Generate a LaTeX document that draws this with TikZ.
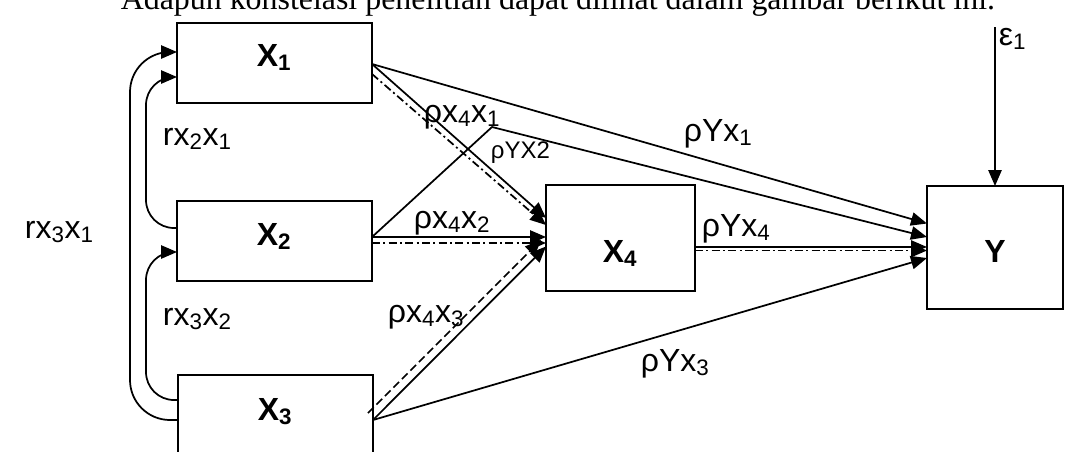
\documentclass[tikz,border=0pt]{standalone}
\usepackage{fontspec}
\setmainfont{Liberation Sans}
\newfontfamily\titlefont{Liberation Serif}
\usetikzlibrary{arrows.meta,calc}
\begin{document}
\begin{tikzpicture}[x=0.75pt,y=-0.75pt,
  line width=1.3pt,
  box/.style={draw, fill=white, inner sep=0pt, outer sep=0pt, minimum width=146.25pt, minimum height=60pt},
  boxlbl/.style={inner sep=0pt, anchor=base, font=\fontsize{24}{28}\selectfont\bfseries},
  lbl/.style={inner sep=0pt, anchor=base west, font=\fontsize{24}{28}\selectfont},
  arr/.style={-{Triangle[length=12pt,width=10pt]}},
  dd/.style={dash pattern=on 6pt off 2.5pt on 1.5pt off 2.5pt},
  ds/.style={dash pattern=on 6pt off 3pt}
]
\useasboundingbox (0,0) rectangle (1071,451);

% title (cut off at the top)
\node[anchor=base west, inner sep=0pt] (title) at (120,9)
  {\resizebox{655.5pt}{!}{\titlefont Adapun konstelasi penelitian dapat dilihat dalam gambar berikut ini.}};

% white label backgrounds
\fill[white] (157,110) rectangle (249,187);
\fill[white] (418,88) rectangle (510,140);
\fill[white] (487,122) rectangle (577,190);
\fill[white] (409,193) rectangle (500,270);
\fill[white] (383,286) rectangle (474,362);
\fill[white] (677,103) rectangle (769,178);
\fill[white] (697,202) rectangle (788,278);
\fill[white] (994,12) rectangle (1071,87);

% boxes
\node[box] (X1) at (274.5,63) {};
\node[box] (X2) at (274.5,241) {};
\node[box] (X3) at (275.5,415) {};
\node[box, minimum width=111.75pt, minimum height=79.5pt] (X4) at (620.5,238) {};
\node[box, minimum width=102pt, minimum height=92.25pt] (Y) at (995,247.5) {};

\node[boxlbl] (X1t) at (274,66) {X\textsubscript{1}};
\node[boxlbl] (X2t) at (274,245) {X\textsubscript{2}};
\node[boxlbl] (X3t) at (275,420) {X\textsubscript{3}};
\node[boxlbl] (X4t) at (620,262) {X\textsubscript{4}};
\node[boxlbl] (Yt) at (995,262) {Y};

% labels
\node[lbl] (l21) at (162,145) {rx\textsubscript{2}x\textsubscript{1}};
\node[lbl] (l31) at (24,238) {rx\textsubscript{3}x\textsubscript{1}};
\node[lbl] (l32) at (162,325) {rx\textsubscript{3}x\textsubscript{2}};
\node[lbl] (p41) at (423,122) {ρx\textsubscript{4}x\textsubscript{1}};
\node[lbl, font=\fontsize{18}{21}\selectfont] (py2) at (490,158) {ρYX2};
\node[lbl] (p42) at (413,228) {ρx\textsubscript{4}x\textsubscript{2}};
\node[lbl] (p43) at (387,322) {ρx\textsubscript{4}x\textsubscript{3}};
\node[lbl] (py1) at (683,141) {ρYx\textsubscript{1}};
\node[lbl] (py4) at (701,236) {ρYx\textsubscript{4}};
\node[lbl] (py3) at (640,371) {ρYx\textsubscript{3}};
\node[lbl] (epsl) at (998,45) {ε\textsubscript{1}};

% helper coordinates
\coordinate (co) at (130,240);
\coordinate (ci1) at (146,150);
\coordinate (ci2) at (146,320);
\coordinate (pk) at (492,127);
\coordinate (e) at (995,27);

% correlation arrows
\draw[arr, rounded corners=30pt] ($(X3.west)+(0,5)$) -| (co) |- ($(X1.west)+(0,-11)$);
\draw[arr, rounded corners=21pt] ($(X2.west)+(0,-13)$) -| (ci1) |- ($(X1.west)+(0,14)$);
\draw[arr, rounded corners=21pt] ($(X3.west)+(0,-15)$) -| (ci2) |- ($(X2.west)+(0,11)$);

% paths to X4
\draw[arr] ($(X1.east)+(0,1)$) -- ($(X4.west)+(0,-20)$);
\draw[arr, dd] ($(X1.east)+(0,11)$) -- ($(X4.west)+(0,-13)$);
\draw[arr] ($(X2.east)+(0,-4)$) -- ($(X4.west)+(0,-1)$);
\draw[arr, dd] ($(X2.east)+(0,2)$) -- ($(X4.west)+(0,5)$);
\draw[arr] ($(X3.east)+(0,5)$) -- ($(X4.west)+(0,8.5)$);
\draw[arr, ds] ($(X3.east)+(-5,-2)$) -- ($(X4.west)+(-5,2)$);

% paths to Y
\draw[arr] ($(X1.east)+(0,1)$) -- ($(Y.west)+(0,-24)$);
\draw[arr] ($(X2.east)+(0,-4)$) -- (pk) -- ($(Y.west)+(0,-10.5)$);
\draw[arr] ($(X4.east)+(0,9)$) -- ($(Y.west)+(0,-0.5)$);
\draw[arr, dd] ($(X4.east)+(0,12.5)$) -- ($(Y.west)+(0,3)$);
\draw[arr] ($(X3.east)+(0,5)$) -- ($(Y.west)+(0,10.5)$);
\draw[arr] (e) -- (Y.north);
\end{tikzpicture}
\end{document}
